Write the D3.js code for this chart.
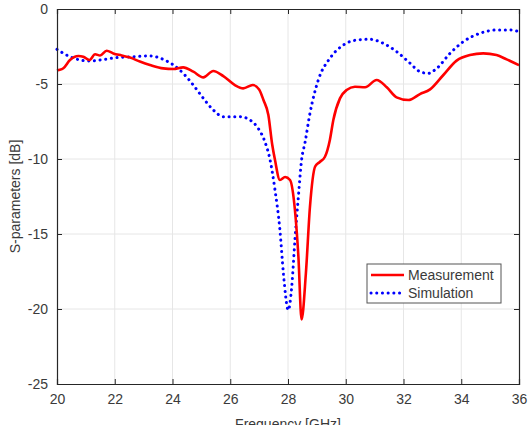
<!DOCTYPE html>
<html>
<head>
<meta charset="utf-8">
<script src="https://cdn.jsdelivr.net/npm/d3@7"></script>
<style>
  body { margin: 0; background: #fff; }
  svg { display: block; font-family: "Liberation Sans", Arial, sans-serif; }
</style>
</head>
<body>
<svg id="chart" width="532" height="425"></svg>
<script>
// frequency (GHz) / dB pairs
var measFreq = [20.0, 20.05, 20.22, 20.45, 20.74, 20.91, 21.12, 21.32, 21.49, 21.72, 21.95, 22.24, 22.53, 22.87, 23.22, 23.68, 24.03, 24.37, 24.72, 25.07, 25.41, 25.76, 26.16, 26.45, 26.78, 27.0, 27.15, 27.32, 27.45, 27.55, 27.72, 27.9, 28.07, 28.24, 28.36, 28.47, 28.62, 28.76, 28.94, 29.1, 29.28, 29.45, 29.57, 29.8, 30.03, 30.32, 30.67, 31.07, 31.42, 31.76, 32.17, 32.57, 32.92, 33.38, 33.84, 34.3, 34.76, 35.22, 35.57, 36.0];
var measDb = [-4.1, -4.07, -3.95, -3.4, -3.13, -3.18, -3.4, -3.02, -3.1, -2.78, -2.96, -3.1, -3.24, -3.5, -3.73, -3.96, -4.0, -3.89, -4.18, -4.56, -4.13, -4.47, -5.07, -5.29, -5.07, -5.36, -6.07, -7.07, -9.0, -10.07, -11.4, -11.2, -11.4, -13.4, -16.5, -20.7, -17.6, -13.2, -10.5, -10.2, -9.85, -8.73, -7.4, -5.96, -5.4, -5.18, -5.22, -4.73, -5.22, -5.89, -6.07, -5.67, -5.36, -4.4, -3.44, -3.07, -2.96, -3.07, -3.36, -3.75];

var simFreq = [20.0, 20.45, 20.8, 21.14, 21.49, 22.07, 22.64, 23.22, 23.68, 24.03, 24.37, 24.72, 25.07, 25.41, 25.76, 26.34, 26.68, 26.97, 27.2, 27.38, 27.55, 27.72, 27.84, 28.01, 28.13, 28.24, 28.36, 28.47, 28.59, 28.76, 29.05, 29.45, 29.92, 30.38, 30.84, 31.3, 31.76, 32.23, 32.57, 32.86, 33.15, 33.61, 34.07, 34.65, 35.22, 35.69, 36.0];
var simDb = [-2.69, -3.18, -3.4, -3.47, -3.4, -3.24, -3.18, -3.13, -3.36, -3.73, -4.29, -5.07, -5.96, -6.73, -7.18, -7.18, -7.4, -7.96, -8.85, -10.07, -12.07, -14.73, -17.6, -20.07, -18.5, -15.4, -12.5, -10.07, -8.9, -6.96, -4.73, -3.29, -2.4, -2.07, -2.02, -2.29, -2.84, -3.62, -4.18, -4.29, -3.96, -2.96, -2.18, -1.62, -1.4, -1.4, -1.51];

var xTicks = [20, 22, 24, 26, 28, 30, 32, 34, 36];
var yTicks = [0, -5, -10, -15, -20, -25];
var seriesNames = ["Measurement", "Simulation"];
var seriesColors = ["#ff0000", "#0000ff"];

var svg = d3.select("#chart");
var margin = {top: 9, right: 13, bottom: 41, left: 57};
var W = 532, H = 425;
var w = W - margin.left - margin.right, h = H - margin.top - margin.bottom;

var x = d3.scaleLinear().domain([20, 36]).range([0, w]);
var y = d3.scaleLinear().domain([-25, 0]).range([h, 0]);

var g = svg.append("g").attr("transform", "translate(" + margin.left + "," + margin.top + ")");

// grid
g.append("g").selectAll("line").data(xTicks.slice(1, -1)).enter().append("line")
  .attr("x1", function(d) { return x(d); }).attr("x2", function(d) { return x(d); })
  .attr("y1", 0).attr("y2", h).attr("stroke", "#e6e6e6").attr("stroke-width", 1);
g.append("g").selectAll("line").data(yTicks.slice(1, -1)).enter().append("line")
  .attr("y1", function(d) { return y(d); }).attr("y2", function(d) { return y(d); })
  .attr("x1", 0).attr("x2", w).attr("stroke", "#e6e6e6").attr("stroke-width", 1);

function line(fs, ds) {
  var pts = fs.map(function(f, i) { return [f, ds[i]]; });
  return d3.line().x(function(d) { return x(d[0]); }).y(function(d) { return y(d[1]); })
    .curve(d3.curveMonotoneX)(pts);
}

g.append("path").attr("d", line(simFreq, simDb)).attr("fill", "none")
  .attr("stroke", seriesColors[1]).attr("stroke-width", 3)
  .attr("stroke-dasharray", "0.1 5.6").attr("stroke-linecap", "round");
g.append("path").attr("d", line(measFreq, measDb)).attr("fill", "none")
  .attr("stroke", seriesColors[0]).attr("stroke-width", 2.6).attr("stroke-linejoin", "round");

// axes (MATLAB style, ticks inward, box)
var axCol = "#262626";
var fmt = function(d) { return String(d); }; // plain hyphen minus like the original
var xAx = g.append("g").attr("transform", "translate(0," + h + ")")
  .call(d3.axisBottom(x).tickValues(xTicks).tickSize(-5).tickPadding(10).tickFormat(fmt));
var xAxTop = g.append("g").call(d3.axisTop(x).tickValues(xTicks).tickSize(-5).tickFormat(""));
var yAx = g.append("g").call(d3.axisLeft(y).tickValues(yTicks).tickSize(-5).tickPadding(9).tickFormat(fmt));
var yAxR = g.append("g").attr("transform", "translate(" + w + ",0)")
  .call(d3.axisRight(y).tickValues(yTicks).tickSize(-5).tickFormat(""));
[xAx, xAxTop, yAx, yAxR].forEach(function(a) {
  a.select(".domain").attr("stroke", axCol).attr("stroke-width", 1.2);
  a.selectAll(".tick line").attr("stroke", axCol);
  a.selectAll("text").attr("fill", "#3a3a3a").style("font-size", "14px")
    .style("font-family", "'Liberation Sans', Arial, sans-serif");
});

svg.append("text").attr("x", margin.left + w / 2).attr("y", 429)
  .attr("text-anchor", "middle").attr("fill", "#3a3a3a").style("font-size", "14px")
  .text("Frequency [GHz]");
svg.append("text").attr("transform", "translate(20," + (margin.top + h / 2) + ") rotate(-90)")
  .attr("text-anchor", "middle").attr("fill", "#3a3a3a").style("font-size", "14px")
  .text("S-parameters [dB]");

// legend
var lg = svg.append("g").attr("transform", "translate(367,264)");
lg.append("rect").attr("width", 134).attr("height", 39).attr("fill", "#fff")
  .attr("stroke", "#555").attr("stroke-width", 1);
seriesNames.forEach(function(name, i) {
  var yy = 11 + i * 18;
  var l = lg.append("line").attr("x1", 4).attr("x2", 37).attr("y1", yy).attr("y2", yy)
    .attr("stroke", seriesColors[i]).attr("stroke-width", i ? 3 : 2.6);
  if (i) l.attr("stroke-dasharray", "0.1 5.6").attr("stroke-linecap", "round");
  lg.append("text").attr("x", 41).attr("y", yy + 5).attr("fill", "#3a3a3a")
    .style("font-size", "14px").text(name);
});
</script>
</body>
</html>
